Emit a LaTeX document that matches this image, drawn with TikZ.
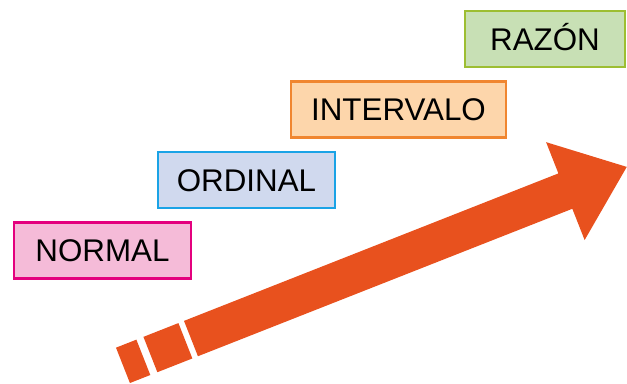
\documentclass[tikz,border=0pt]{standalone}
\usepackage{fontspec}
\setmainfont{Liberation Sans}
\usetikzlibrary{positioning}
\definecolor{arroworange}{RGB}{232,81,30}
\definecolor{pinkfill}{RGB}{245,187,216}
\definecolor{pinkline}{RGB}{228,0,126}
\definecolor{bluefill}{RGB}{208,217,238}
\definecolor{blueline}{RGB}{26,163,230}
\definecolor{orangefill}{RGB}{253,214,171}
\definecolor{orangeline}{RGB}{240,134,48}
\definecolor{greenfill}{RGB}{200,224,181}
\definecolor{greenline}{RGB}{157,190,50}
\tikzset{
  levelbox/.style={draw, line width=1.9pt, minimum height=42.3pt, inner sep=0pt, font=\fontsize{23.5}{28}\selectfont, text height=16.8pt, text depth=0pt},
  normalbox/.style={levelbox, fill=pinkfill, draw=pinkline, minimum width=132.5pt},
  ordinalbox/.style={levelbox, fill=bluefill, draw=blueline, minimum width=132.5pt},
  intervalbox/.style={levelbox, fill=orangefill, draw=orangeline, minimum width=161pt},
  ratiobox/.style={levelbox, fill=greenfill, draw=greenline, minimum width=119.8pt},
  bigarrow/.style={fill=arroworange}
}
\begin{document}
\begin{tikzpicture}[x=0.75pt, y=0.75pt]
  \useasboundingbox (0,0) rectangle (627,-383);
  % arrow rising to the right
  \begin{scope}[shift={(141.1,-358.2)}, rotate=21.5]
    \fill[bigarrow] (-19.5,-19) rectangle (2.4,19);
    \fill[bigarrow] (10,-19) rectangle (47.6,19);
    \fill[bigarrow] (53.6,-19) -- (456,-19) -- (456,-52.6) -- (522,0)
      -- (456,52.6) -- (456,19) -- (53.6,19) -- cycle;
  \end{scope}
  % levels
  \node[normalbox] (normal) at (102.5,-250.5) {NORMAL};
  \node[ordinalbox] (ordinal) at (246.5,-180) {ORDINAL};
  \node[intervalbox] (interval) at (398.5,-109.5) {INTERVALO};
  \node[ratiobox] (ratio) at (545,-39) {RAZÓN};
\end{tikzpicture}
\end{document}
